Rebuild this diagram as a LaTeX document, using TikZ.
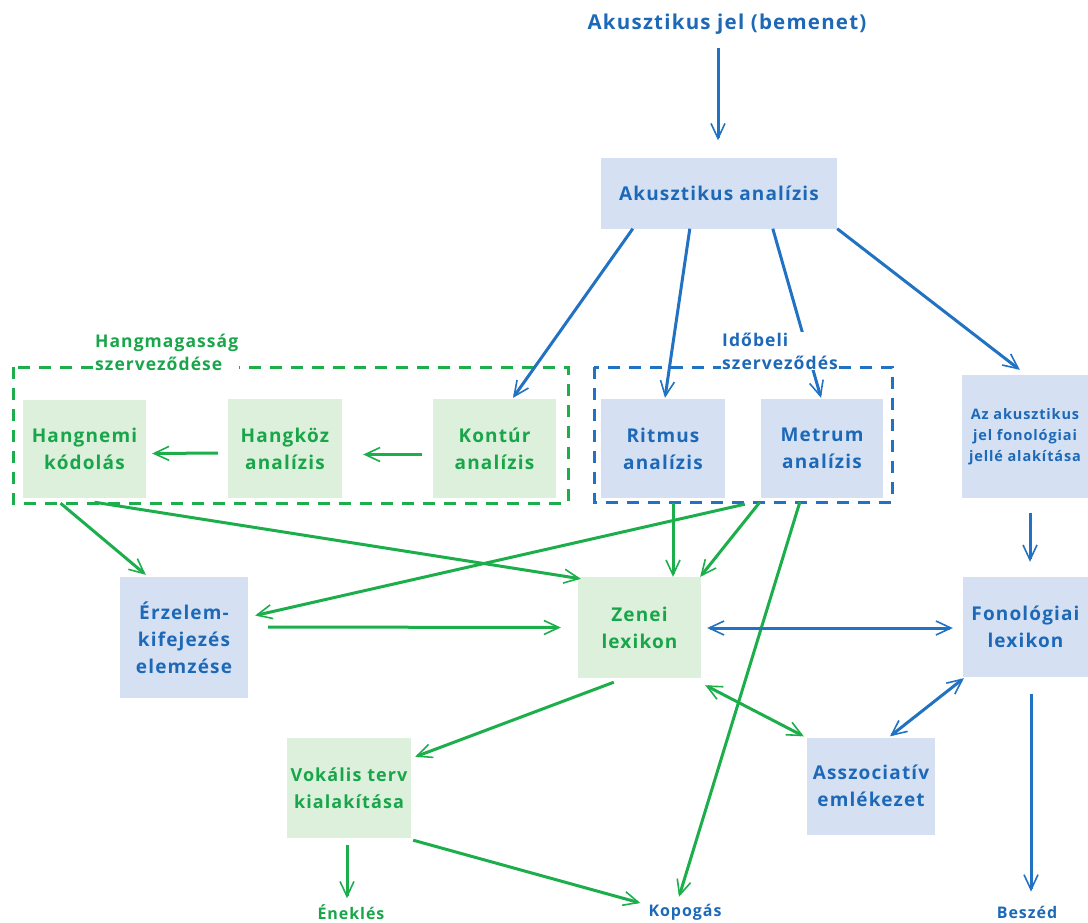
\documentclass[tikz,border=0pt]{standalone}
\usepackage{fontspec}
\setmainfont[LetterSpace=6]{Open Sans}
\usetikzlibrary{arrows.meta}
\definecolor{tblue}{HTML}{1D69B8}
\definecolor{lblue}{HTML}{2272C3}
\definecolor{fblue}{HTML}{D5E1F3}
\definecolor{tgreen}{HTML}{19A64A}
\definecolor{lgreen}{HTML}{1DAE4C}
\definecolor{fgreen}{HTML}{DDF0DC}
\begin{document}
\begin{tikzpicture}[x=1pt,y=-1pt,
  boxtext/.style={font=\bfseries\fontsize{19}{27}\selectfont, align=center, inner sep=0pt},
  bbox/.style={boxtext, fill=fblue, text=tblue},
  gbox/.style={boxtext, fill=fgreen, text=tgreen},
  outlbl/.style={font=\bfseries\fontsize{16}{20}\selectfont, inner sep=0pt},
  grplbl/.style={font=\bfseries\fontsize{17.5}{23}\selectfont, align=left, inner sep=1pt, fill=white, anchor=west},
  headtip/.tip={Straight Barb[length=15pt,width=14pt,line width=1.6pt]},
  tip/.style={-headtip},
  both/.style={headtip-headtip},
  barr/.style={tip, draw=lblue, line width=3pt},
  garr/.style={tip, draw=lgreen, line width=3pt},
  bboth/.style={both, draw=lblue, line width=3pt},
  gboth/.style={both, draw=lgreen, line width=3pt},
  grpframe/.style={line width=3pt, dash pattern=on 12pt off 9pt}
]
\useasboundingbox (0,0) rectangle (1088,922);

% group frames
\draw[grpframe, draw=lgreen] (13,367) rectangle (568,503);
\draw[grpframe, draw=lblue] (594,367) rectangle (892,502);

% input and top analysis
\node[font=\bfseries\fontsize{20.5}{24}\selectfont, text=tblue, inner sep=0pt] (title) at (727,24) {Akusztikus jel (bemenet)};
\node[bbox, minimum width=236pt, minimum height=71pt] (ak) at (719,193) {Akusztikus analízis};

% pitch organisation
\node[gbox, minimum width=123pt, minimum height=99pt] (kon) at (494.5,448.5) {Kontúr\\analízis};
\node[gbox, minimum width=114pt, minimum height=99pt] (hkoz) at (285,448.5) {Hangköz\\analízis};
\node[gbox, minimum width=123pt, minimum height=98pt] (hnem) at (84.5,449) {Hangnemi\\kódolás};

% temporal organisation
\node[bbox, minimum width=124pt, minimum height=99pt] (rit) at (663,448.5) {Ritmus\\analízis};
\node[bbox, minimum width=122pt, minimum height=99pt] (met) at (822,448.5) {Metrum\\analízis};

% phonological branch
\node[bbox, font=\bfseries\fontsize{14.5}{21}\selectfont, minimum width=126pt, minimum height=123pt] (fonjel) at (1025,436.5) {Az akusztikus\\jel fonológiai\\jellé alakítása};
\node[bbox, minimum width=125pt, minimum height=100pt] (fonlex) at (1025.5,627) {Fonológiai\\lexikon};

% lexicon level
\node[gbox, minimum width=123pt, minimum height=101pt] (zen) at (639.5,627.5) {Zenei\\lexikon};
\node[bbox, minimum width=128pt, minimum height=121pt] (erz) at (184,637.5) {Érzelem-\\kifejezés\\elemzése};
\node[gbox, font=\bfseries\fontsize{18}{27}\selectfont, minimum width=124pt, minimum height=100pt] (vok) at (349,788) {Vokális terv\\kialakítása};
\node[bbox, minimum width=128pt, minimum height=97pt] (assz) at (871,786) {Asszociatív\\emlékezet};

% outputs
\node[outlbl, text=tgreen] (ene) at (351,912) {Éneklés};
\node[outlbl, text=tblue] (kop) at (685,912) {Kopogás};
\node[outlbl, text=tblue] (besz) at (1027,912) {Beszéd};

% connectors from the acoustic analysis
\draw[barr] ([shift={(-9,14)}]title.south) -- ([shift={(-1,-17)}]ak.north);
\draw[barr] ([shift={(32,0)}]ak.south west) -- ([shift={(18.5,-1)}]kon.north);
\draw[barr] ([shift={(89,0)}]ak.south west) -- ([shift={(2,-1)}]rit.north);
\draw[barr] ([shift={(172,0)}]ak.south west) -- ([shift={(-1,-1)}]met.north);
\draw[barr] (ak.south east) -- ([shift={(58,-5)}]fonjel.north west);

% pitch chain
\draw[garr] ([shift={(-11,6)}]kon.west) -- ([shift={(21,6)}]hkoz.east);
\draw[garr] ([shift={(-10,4.5)}]hkoz.west) -- ([shift={(6,4.5)}]hnem.east);

% towards emotion and lexicon
\draw[garr] ([shift={(-24,5)}]hnem.south) -- ([shift={(26,-2)}]erz.north west);
\draw[garr] ([shift={(10,4)}]hnem.south) -- ([shift={(3,2)}]zen.north west);
\draw[garr] ([shift={(10,5)}]rit.south) -- ([shift={(33.5,0)}]zen.north);
\draw[garr] ([shift={(-1,4)}]met.south west) -- ([shift={(-1,0)}]zen.north east);
\draw[garr] ([shift={(-16,6)}]met.south west) -- ([shift={(7,-22)}]erz.east);
\draw[garr] ([shift={(39,4)}]met.south west) -- ([shift={(-6,-7)}]kop.north);
\draw[garr] ([shift={(20,-10.5)}]erz.east) -- ([shift={(-17,0)}]zen.west);

% lexicon links
\draw[bboth] ([shift={(6,0.5)}]zen.east) -- ([shift={(-10,1)}]fonlex.west);
\draw[garr] ([shift={(36,4)}]zen.south west) -- ([shift={(4,19)}]vok.north east);
\draw[gboth] ([shift={(4,7)}]zen.south east) -- ([shift={(-3,-1)}]assz.north west);
\draw[bboth] ([shift={(1,1)}]fonlex.south west) -- ([shift={(19,-1)}]assz.north);
\draw[barr] ([shift={(5,15)}]fonjel.south) -- ([shift={(4.5,-15)}]fonlex.north);
\draw[barr] ([shift={(5.5,17)}]fonlex.south) -- ([shift={(4,-14)}]besz.north);

% vocal plan outputs
\draw[garr] ([shift={(-2,7)}]vok.south) -- ([shift={(-4,-6)}]ene.north);
\draw[garr] ([shift={(2,2)}]vok.south east) -- ([shift={(-8,-9)}]kop.west);

% group labels, drawn last so they break the frames and lines
\node[grplbl, text=tgreen] (hlbl) at (94,352) {Hangmagasság\\szerveződése};
\node[grplbl, text=tblue] (ilbl) at (721,351) {Időbeli\\szerveződés};
\end{tikzpicture}
\end{document}
